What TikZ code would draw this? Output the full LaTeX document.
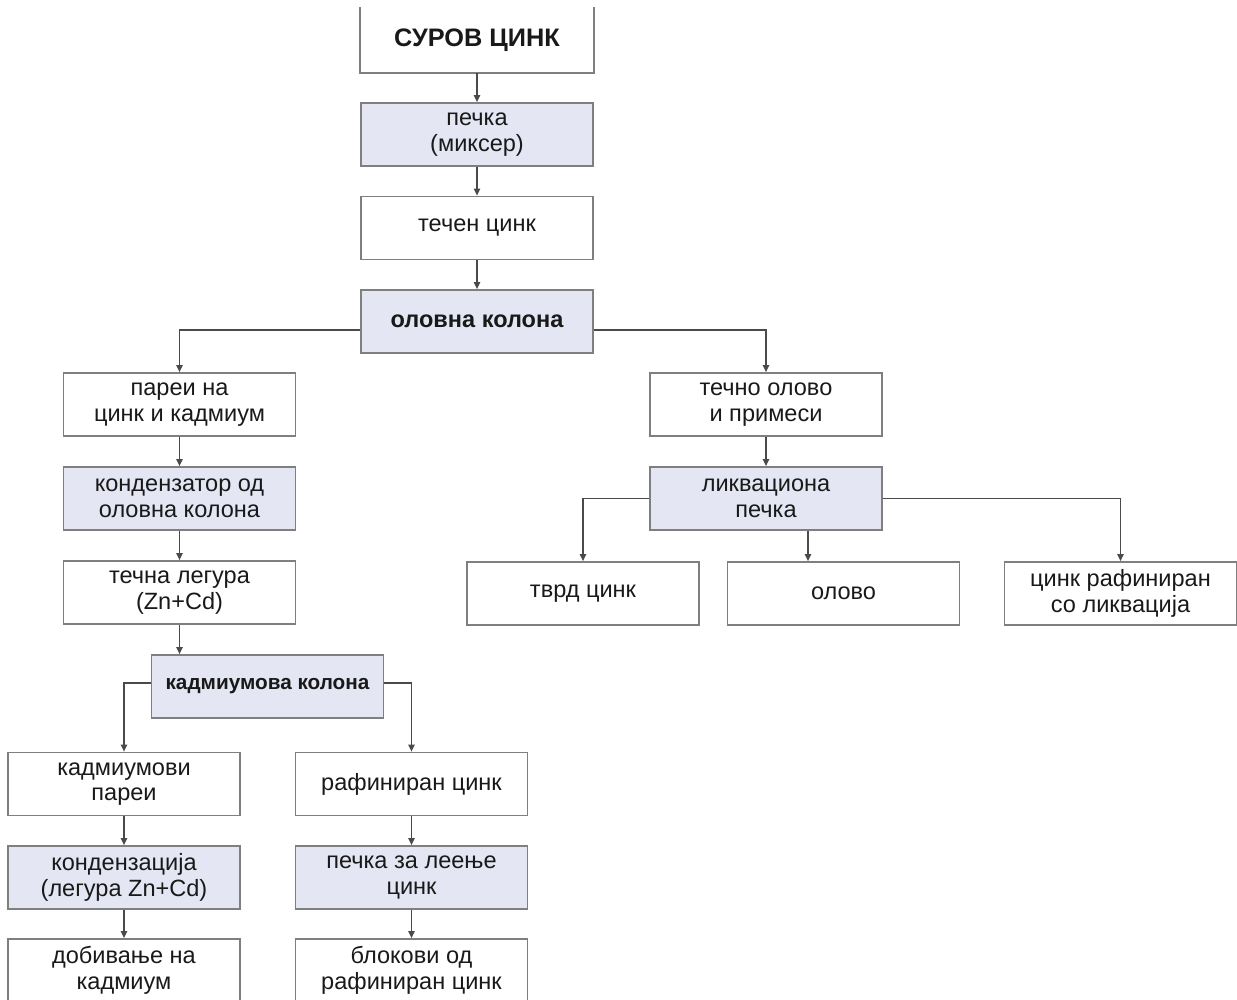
\documentclass[tikz,border=0pt]{standalone}
\usepackage{fontspec}
\setmainfont{Liberation Sans}
\usetikzlibrary{arrows.meta}
\definecolor{boxline}{HTML}{7F7F7F}
\definecolor{boxfill}{HTML}{E4E6F3}
\definecolor{arrline}{HTML}{4A4A4A}

\begin{document}
\begin{tikzpicture}[x = 0.02cm, y = -0.02cm,
                        box/.style = {draw=boxline, line width=1pt, align=center, inner sep=0pt,
                                      minimum width=4.64cm, minimum height=1.26cm,
                                      text=black!90, font=\fontsize{13.4}{14.6}\selectfont},
                        fbox/.style = {box, fill=boxfill},
                        arr/.style = {draw=arrline, line width=0.8pt,
                                      -{Triangle[length=4pt, width=3.6pt]}}]
      \useasboundingbox (0, 0) rectangle (1237, 1000);
      \node [box, draw=none, minimum height=1.28cm, font=\fontsize{14.4}{16}\selectfont\bfseries] (raw) at (477, 40){СУРОВ ЦИНК};
      \draw [boxline, line width=1pt] (raw.north west) |- (raw.south east) -- (raw.north east);
      \node [fbox] (mixer) at (477, 134.5){печка\\(миксер)};
      \node [box] (liquid) at (477, 228){течен цинк};
      \node [fbox, font=\fontsize{13.4}{14.6}\selectfont\bfseries] (leadcol) at (477, 321.5){оловна колона};
      \node [box] (vapours) at (179.5, 404.5){пареи на\\цинк и кадмиум};
      \node [box] (leadmix) at (766, 404.5){течно олово\\и примеси};
      \node [fbox] (condenser) at (179.5, 498.5){кондензатор од\\оловна колона};
      \node [fbox] (liquation) at (766, 498.5){ликвациона\\печка};
      \node [box] (alloy) at (179.5, 592.5){течна легура\\(Zn+Cd)};
      \node [box] (hardzn) at (583, 593.5){тврд цинк};
      \node [box] (lead) at (843.5, 593.5){олово};
      \node [box] (liqzn) at (1120.5, 593.5){цинк рафиниран\\со ликвација};
      \node [fbox, font=\fontsize{11.8}{13}\selectfont\bfseries] (cdcol) at (267.5, 686.5){кадмиумова колона};
      \node [box] (cdvap) at (124, 784){кадмиумови\\пареи};
      \node [box] (refzn) at (411.5, 784){рафиниран цинк};
      \node [fbox] (cdcond) at (124, 877.5){кондензација\\(легура Zn+Cd)};
      \node [fbox] (castfurn) at (411.5, 877.5){печка за леење\\цинк};
      \node [box] (cdprod) at (124, 970.5){добивање на\\кадмиум};
      \node [box] (blocks) at (411.5, 970.5){блокови од\\рафиниран цинк};
      \draw [arr] (raw) -- (mixer); \draw [arr] (mixer) -- (liquid);
      \draw [arr] (liquid) -- (leadcol);
      \draw [arr] ([yshift=-0.17cm]leadcol.west) -| (vapours.north);
      \draw [arr] ([yshift=-0.17cm]leadcol.east) -| (leadmix.north);
      \draw [arr] (vapours) -- (condenser); \draw [arr] (condenser) -- (alloy);
      \draw [arr] (alloy.south) -- (alloy.south |- cdcol.north);
      \draw [arr] ([yshift=0.07cm]cdcol.west) -| (cdvap.north);
      \draw [arr] ([yshift=0.07cm]cdcol.east) -| (refzn.north);
      \draw [arr] (cdvap) -- (cdcond); \draw [arr] (cdcond) -- (cdprod);
      \draw [arr] (refzn) -- (castfurn); \draw [arr] (castfurn) -- (blocks);
      \draw [arr] (leadmix) -- (liquation);
      \draw [arr] (liquation.west) -| (hardzn.north);
      \draw [arr] (liquation.east) -| (liqzn.north);
      \draw [arr] ([xshift=0.84cm]liquation.south) -- ([xshift=0.84cm]liquation.south |- lead.north);
    \end{tikzpicture}
\end{document}
